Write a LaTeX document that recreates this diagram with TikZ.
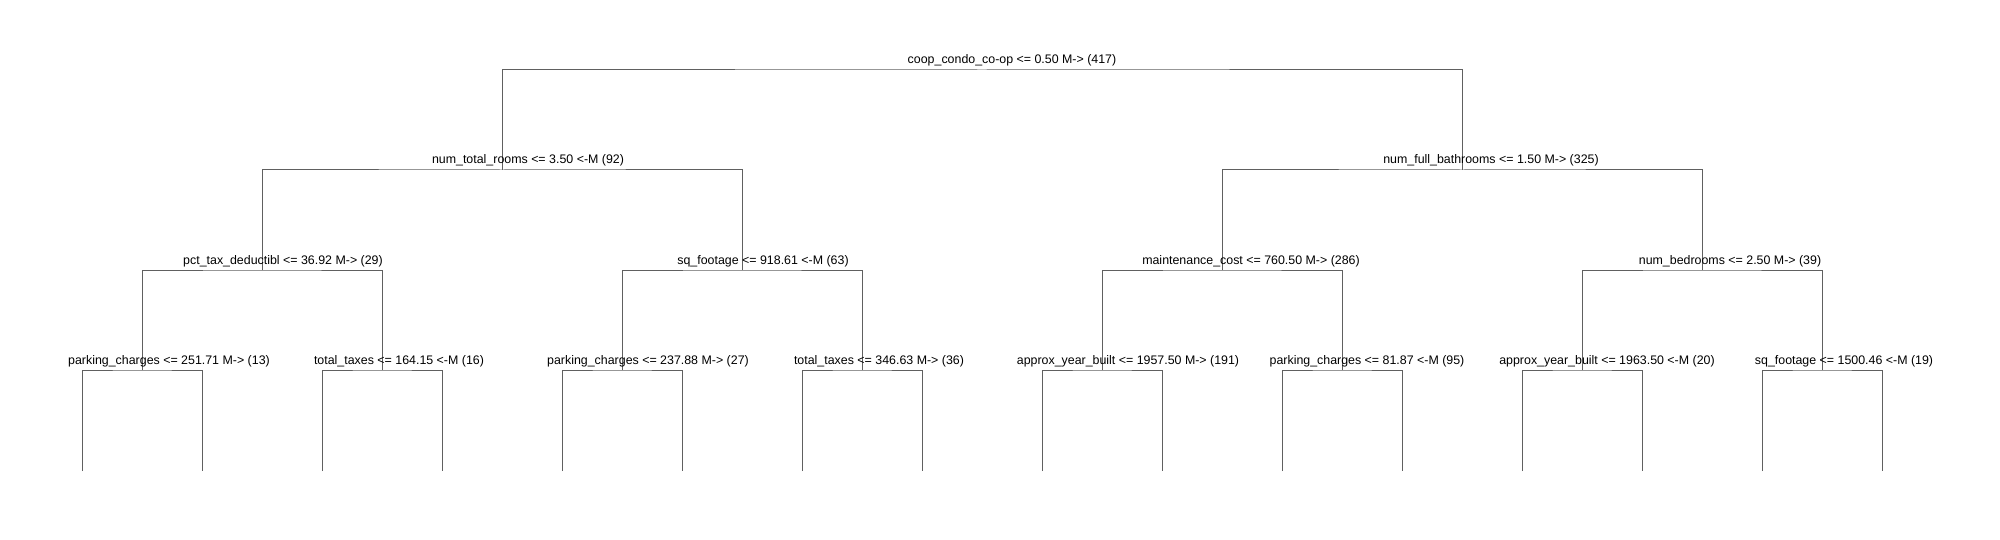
\documentclass[tikz,border=0pt]{standalone}
\usepackage{fontspec}
\setmainfont{Liberation Sans}
\definecolor{treeline}{RGB}{96,96,96}
\begin{document}
\begin{tikzpicture}[x=1pt,y=-1pt,
  edge/.style={draw=treeline,line width=1pt},
  lbl/.style={anchor=base,inner sep=0pt,font=\fontsize{12.4}{14}\selectfont,text=black}]
\useasboundingbox[fill=white] (0,0) rectangle (2000,540);
% split points
\coordinate (n1) at (982,70);
\coordinate (n2) at (502,170);
\coordinate (n3) at (1462,170);
\coordinate (n4) at (262,270);
\coordinate (n5) at (742,270);
\coordinate (n6) at (1222,270);
\coordinate (n7) at (1702,270);
\foreach \i/\x in {8/142,9/382,10/622,11/862,12/1102,13/1342,14/1582,15/1822}
  \coordinate (n\i) at (\x,370);
\foreach \i in {0,...,15}
  \coordinate (leaf\i) at ({82+120*\i},471);
% connectors
\draw[edge] (n2) |- (n1) -| (n3);
\draw[edge] (n4) |- (n2) -| (n5);
\draw[edge] (n6) |- (n3) -| (n7);
\draw[edge] (n8) |- (n4) -| (n9);
\draw[edge] (n10) |- (n5) -| (n11);
\draw[edge] (n12) |- (n6) -| (n13);
\draw[edge] (n14) |- (n7) -| (n15);
\draw[edge] (leaf0) |- (n8) -| (leaf1);
\draw[edge] (leaf2) |- (n9) -| (leaf3);
\draw[edge] (leaf4) |- (n10) -| (leaf5);
\draw[edge] (leaf6) |- (n11) -| (leaf7);
\draw[edge] (leaf8) |- (n12) -| (leaf9);
\draw[edge] (leaf10) |- (n13) -| (leaf11);
\draw[edge] (leaf12) |- (n14) -| (leaf13);
\draw[edge] (leaf14) |- (n15) -| (leaf15);
% labels
\node[lbl] (l1) at (1012,64) {coop\_condo\_co-op <= 0.50 M-> (417)};
\node[lbl] (l2) at (528,164) {num\_total\_rooms <= 3.50 <-M (92)};
\node[lbl] (l3) at (1491,164) {num\_full\_bathrooms <= 1.50 M-> (325)};
\node[lbl] (l4) at (283,264) {pct\_tax\_deductibl <= 36.92 M-> (29)};
\node[lbl] (l5) at (763,264) {sq\_footage <= 918.61 <-M (63)};
\node[lbl] (l6) at (1251,264) {maintenance\_cost <= 760.50 M-> (286)};
\node[lbl] (l7) at (1730,264) {num\_bedrooms <= 2.50 M-> (39)};
\node[lbl] (l8) at (169,364) {parking\_charges <= 251.71 M-> (13)};
\node[lbl] (l9) at (399,364) {total\_taxes <= 164.15 <-M (16)};
\node[lbl] (l10) at (648,364) {parking\_charges <= 237.88 M-> (27)};
\node[lbl] (l11) at (879,364) {total\_taxes <= 346.63 M-> (36)};
\node[lbl] (l12) at (1128,364) {approx\_year\_built <= 1957.50 M-> (191)};
\node[lbl] (l13) at (1367,364) {parking\_charges <= 81.87 <-M (95)};
\node[lbl] (l14) at (1607,364) {approx\_year\_built <= 1963.50 <-M (20)};
\node[lbl] (l15) at (1844,364) {sq\_footage <= 1500.46 <-M (19)};
\end{tikzpicture}
\end{document}
